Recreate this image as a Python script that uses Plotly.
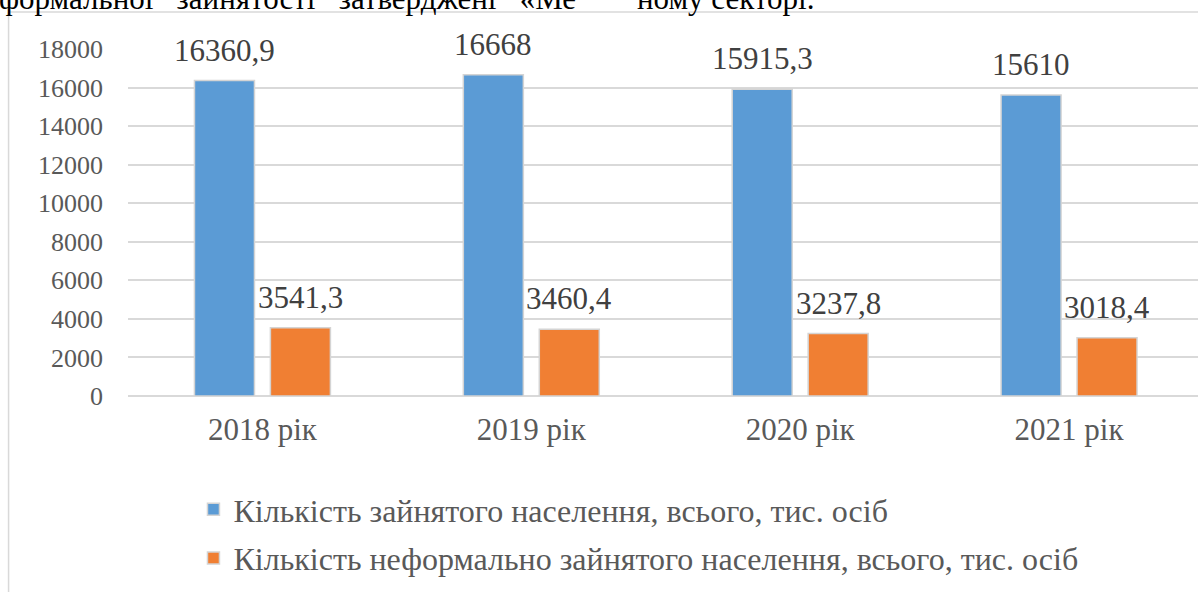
import plotly.graph_objects as go

categories = ["2018 рік", "2019 рік", "2020 рік", "2021 рік"]
employed = [16360.9, 16668, 15915.3, 15610]
informal = [3541.3, 3460.4, 3237.8, 3018.4]
series_names = [
    "Кількість зайнятого населення, всього, тис. осіб",
    "Кількість неформально зайнятого населення, всього, тис. осіб",
]
y_ticks = [0, 2000, 4000, 6000, 8000, 10000, 12000, 14000, 16000, 18000]

SERIF = "Liberation Serif, Times New Roman, serif"
W, H = 1198, 592
PL, PT, PB = 127.5, 49, 396  # plot-area pixel edges
PW, PH = W - PL, PB - PT


def px_x(p):
    return (p - PL) / PW


def px_y(p):
    return (PB - p) / PH


def fmt(v):
    s = ("%.1f" % v).rstrip("0").rstrip(".")
    return s.replace(".", ",")


fig = go.Figure()
fig.add_trace(go.Bar(
    x=categories, y=employed, name=series_names[0],
    marker=dict(color="#5B9BD5", line=dict(color="#d4d4d4", width=1.5)),
    legendgroup="a",
))
fig.add_trace(go.Bar(
    x=categories, y=informal, name=series_names[1],
    marker=dict(color="#F07F33", line=dict(color="#d4d4d4", width=1.5)),
    legendgroup="b",
))

annotations = []
for vals, shift in ((employed, -38), (informal, 38)):
    for c, v in zip(categories, vals):
        annotations.append(dict(
            x=c, y=v, xref="x", yref="y", text=fmt(v), showarrow=False,
            xshift=shift, yshift=11, yanchor="bottom",
            font=dict(family=SERIF, size=31, color="#404040"),
        ))

GAP = "&nbsp;&nbsp;&nbsp;"
annotations.append(dict(
    x=px_x(-4), y=px_y(-1), xref="paper", yref="paper", xanchor="left",
    yanchor="middle", showarrow=False,
    text=GAP.join(["формальної", "зайнятості", "затверджені", "«Ме"]),
    font=dict(family=SERIF, size=31, color="#000000"),
))
annotations.append(dict(
    x=px_x(635), y=px_y(-1), xref="paper", yref="paper", xanchor="left",
    yanchor="middle", showarrow=False,
    text="ному секторі.",
    font=dict(family=SERIF, size=31, color="#000000"),
))

shapes = [
    dict(type="line", xref="paper", yref="paper", x0=px_x(8), x1=px_x(W + 5),
         y0=px_y(12), y1=px_y(12), line=dict(color="#d9d9d9", width=1.5)),
    dict(type="line", xref="paper", yref="paper", x0=px_x(8), x1=px_x(8),
         y0=px_y(12), y1=px_y(H + 5), line=dict(color="#d9d9d9", width=1.5)),
]

fig.update_layout(
    width=W, height=H,
    margin=dict(l=PL, r=0, t=PT, b=H - PB, autoexpand=False),
    paper_bgcolor="white", plot_bgcolor="white",
    barmode="group", bargap=0.435, bargroupgap=0.21,
    showlegend=True,
    legend=dict(
        x=px_x(193), y=px_y(482), xanchor="left", yanchor="top",
        orientation="v", traceorder="grouped", tracegroupgap=4,
        font=dict(family=SERIF, size=32, color="#595959"),
        bgcolor="rgba(0,0,0,0)",
    ),
    annotations=annotations, shapes=shapes,
    xaxis=dict(
        type="category", range=[-0.5, 3.5 - 5.5 / 269],
        showgrid=False, showline=False, zeroline=False, ticks="",
        tickfont=dict(family=SERIF, size=31, color="#595959"),
        ticklabelstandoff=12,
    ),
    yaxis=dict(
        range=[0, 18000], tickvals=y_ticks, ticktext=[str(t) for t in y_ticks],
        showgrid=True,
        gridcolor="#d9d9d9", gridwidth=1.5, zeroline=True,
        zerolinecolor="#d9d9d9", zerolinewidth=1.5, showline=False,
        ticks="", tickfont=dict(family=SERIF, size=26, color="#595959"),
        ticklabelstandoff=24,
    ),
)

fig.write_html(
    "out.html",
    config={"displayModeBar": False},
    post_script="document.body.style.margin='0';document.body.style.overflow='hidden';",
)
